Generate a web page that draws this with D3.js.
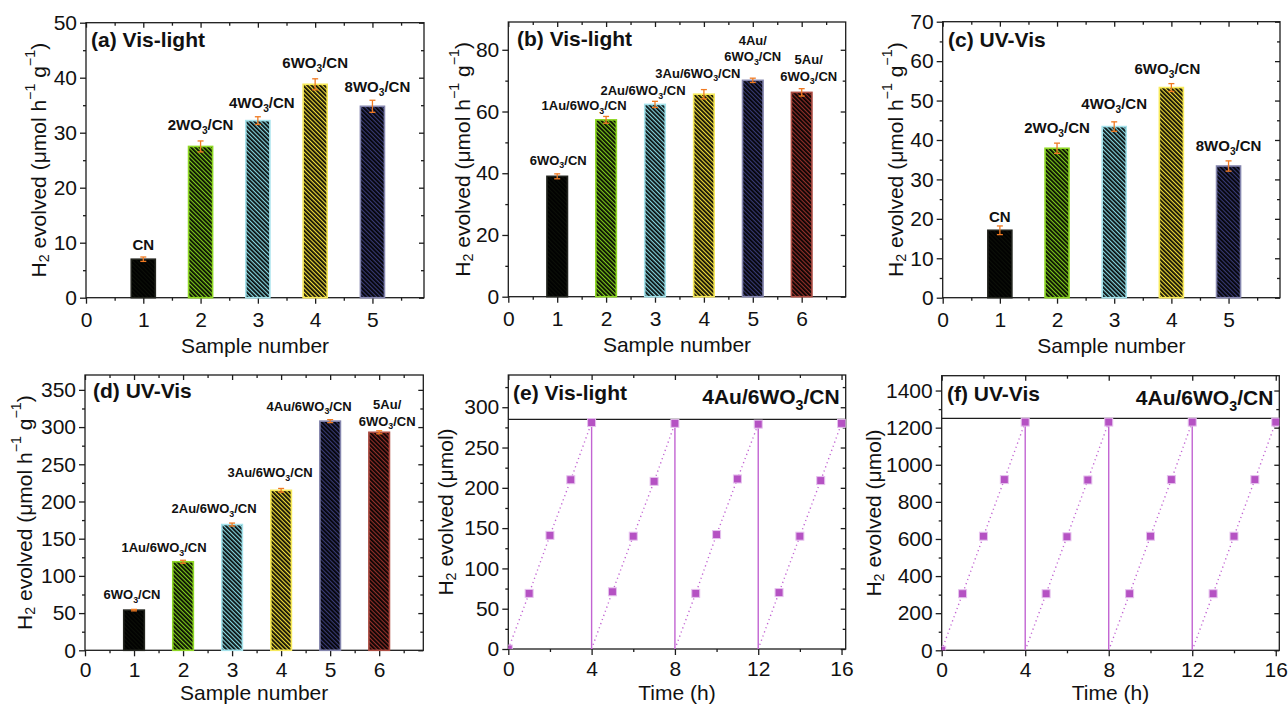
<!DOCTYPE html>
<html>
<head>
<meta charset="utf-8">
<script src="https://cdn.jsdelivr.net/npm/d3@7"></script>
<style>
  html, body { margin: 0; padding: 0; background: #fff; }
</style>
</head>
<body>
<div id="chart"></div>
<script>
'use strict';

// ---- data ----
var aSamples = [1, 2, 3, 4, 5];
var aNames = ['CN', '2WO_{3}/CN', '4WO_{3}/CN', '6WO_{3}/CN', '8WO_{3}/CN'];
var aRates = [7.0, 27.5, 32.2, 38.8, 34.8];
var aErrors = [0.4, 1.0, 0.7, 1.0, 1.1];

var bSamples = [1, 2, 3, 4, 5, 6];
var bNames = ['6WO_{3}/CN', '1Au/6WO_{3}/CN', '2Au/6WO_{3}/CN', '3Au/6WO_{3}/CN', '4Au/\n6WO_{3}/CN', '5Au/\n6WO_{3}/CN'];
var bRates = [39.0, 57.3, 62.3, 65.6, 70.1, 66.2];
var bErrors = [0.8, 1.1, 1.0, 1.5, 0.7, 1.2];

var cSamples = [1, 2, 3, 4, 5];
var cNames = ['CN', '2WO_{3}/CN', '4WO_{3}/CN', '6WO_{3}/CN', '8WO_{3}/CN'];
var cRates = [17.1, 37.9, 43.4, 53.3, 33.4];
var cErrors = [1.1, 1.3, 1.2, 1.0, 1.3];

var dSamples = [1, 2, 3, 4, 5, 6];
var dNames = ['6WO_{3}/CN', '1Au/6WO_{3}/CN', '2Au/6WO_{3}/CN', '3Au/6WO_{3}/CN', '4Au/6WO_{3}/CN', '5Au/\n6WO_{3}/CN'];
var dRates = [54, 119, 169, 215, 308, 293];
var dErrors = [1.0, 2.0, 2.0, 2.5, 2.0, 2.0];

// cycling runs: 4 cycles of 4 h, sampled every hour, reset to 0 at each cycle start
var cycleHours = [0, 1, 2, 3, 4];
var eCycles = [
  [0, 69, 141, 210, 281],
  [0, 71, 140, 208, 280],
  [0, 69, 142, 211, 279],
  [0, 70, 140, 209, 280]
];
var fCycles = [
  [0, 305, 615, 920, 1230],
  [0, 305, 612, 918, 1230],
  [0, 305, 615, 920, 1230],
  [0, 305, 615, 920, 1230]
];

// ---- styles ----
var FONT = '"Liberation Sans", Arial, Helvetica, sans-serif';
var axisColor = '#1c1c1c';
var barColors = ['#0c0f08', '#7fcb1c', '#86d6e0', '#f2de3a', '#383a74', '#92302a'];
var barEdges = ['#22241e', '#8fd825', '#a6e3ec', '#f7ea5c', '#8485ad', '#ad4d43'];
var errColor = '#f07a22';
var lineColor = '#c264d2';
var markFill = '#b552c3';
var markEdge = '#e6c2ee';
var barWidth = 0.42;

var W = 1288, H = 705;
var svg = d3.select('#chart').append('svg')
  .attr('width', W).attr('height', H)
  .style('font-family', FONT);
svg.append('rect').attr('width', W).attr('height', H).attr('fill', '#fff');
var defs = svg.append('defs');

barColors.forEach(function (c, i) {
  var s = 3.0;
  var pat = defs.append('pattern')
    .attr('id', 'hatch' + i)
    .attr('patternUnits', 'userSpaceOnUse')
    .attr('width', s).attr('height', s)
    .attr('patternTransform', 'rotate(-45)');
  pat.append('rect').attr('width', s).attr('height', s).attr('fill', c);
  pat.append('line')
    .attr('x1', 0.9).attr('y1', -1).attr('x2', 0.9).attr('y2', s + 1)
    .attr('stroke', '#000').attr('stroke-width', 1.7);
});

// text with _{sub} and ^{sup} parts
function rich(text, str, fs) {
  var parts = str.split(/([_^]\{[^}]*\})/).filter(function (s) { return s.length; });
  var shift = 0;
  parts.forEach(function (p) {
    var target = 0, s = p, small = false;
    if (p[0] === '_') { target = 0.28 * fs; s = p.slice(2, -1); small = true; }
    else if (p[0] === '^') { target = -0.38 * fs; s = p.slice(2, -1); small = true; }
    var t = text.append('tspan').attr('dy', target - shift).text(s);
    if (small) t.attr('font-size', fs * 0.68);
    shift = target;
  });
}

function styleAxis(g) {
  g.attr('font-size', 21).attr('font-family', FONT);
  g.select('.domain').remove();
  g.selectAll('.tick line').attr('stroke', axisColor).attr('stroke-width', 1.3);
  g.selectAll('.tick text').attr('fill', '#111');
}

function frame(p) {
  var x = d3.scaleLinear().domain([0, p.xMax]).range([p.left, p.right]);
  var y = d3.scaleLinear().domain([0, p.yMax]).range([p.bottom, p.top]);
  var g = svg.append('g');

  var xMaj = d3.range(0, p.xMax + 1e-6, p.xStep);
  var xMin = d3.range(p.xStep / 2, p.xMax, p.xStep);
  var yMaj = d3.range(0, p.yMax + 1e-6, p.yStep);
  var yMin = d3.range(p.yStep / 2, p.yMax, p.yStep);

  g.append('g').attr('transform', 'translate(0,' + p.bottom + ')')
    .call(d3.axisBottom(x).tickValues(xMaj).tickSize(6).tickPadding(p.xPad || 8).tickFormat(d3.format('d')))
    .call(styleAxis);
  g.append('g').attr('transform', 'translate(0,' + p.bottom + ')')
    .call(d3.axisBottom(x).tickValues(xMin).tickSize(3).tickFormat(''))
    .call(styleAxis);
  g.append('g').attr('transform', 'translate(0,' + p.top + ')')
    .call(d3.axisTop(x).tickValues(xMaj).tickSize(-5).tickFormat(''))
    .call(styleAxis);
  g.append('g').attr('transform', 'translate(0,' + p.top + ')')
    .call(d3.axisTop(x).tickValues(xMin).tickSize(-3).tickFormat(''))
    .call(styleAxis);

  g.append('g').attr('transform', 'translate(' + p.left + ',0)')
    .call(d3.axisLeft(y).tickValues(yMaj).tickSize(6).tickPadding(3).tickFormat(d3.format('d')))
    .call(styleAxis);
  g.append('g').attr('transform', 'translate(' + p.left + ',0)')
    .call(d3.axisLeft(y).tickValues(yMin).tickSize(3).tickFormat(''))
    .call(styleAxis);
  g.append('g').attr('transform', 'translate(' + p.right + ',0)')
    .call(d3.axisRight(y).tickValues(yMaj).tickSize(-5).tickFormat(''))
    .call(styleAxis);
  g.append('g').attr('transform', 'translate(' + p.right + ',0)')
    .call(d3.axisRight(y).tickValues(yMin).tickSize(-3).tickFormat(''))
    .call(styleAxis);

  g.append('rect')
    .attr('x', p.left).attr('y', p.top)
    .attr('width', p.right - p.left).attr('height', p.bottom - p.top)
    .attr('fill', 'none').attr('stroke', axisColor).attr('stroke-width', 1.3);

  // axis titles
  var xt = g.append('text')
    .attr('x', (p.left + p.right) / 2).attr('y', p.bottom + p.xTitleOff)
    .attr('text-anchor', 'middle').attr('font-size', 21).attr('fill', '#111');
  rich(xt, p.xTitle, 21);
  var cy = (p.top + p.bottom) / 2;
  var yt = g.append('text')
    .attr('transform', 'translate(' + p.yTitleX + ',' + cy + ') rotate(-90)')
    .attr('text-anchor', 'middle').attr('dominant-baseline', 'central')
    .attr('font-size', 21).attr('fill', '#111');
  rich(yt, p.yTitle, 21);

  // panel title
  var tt = g.append('text')
    .attr('x', p.titleX).attr('y', p.titleY)
    .attr('font-size', 21).attr('font-weight', 'bold').attr('fill', '#111');
  rich(tt, p.title, 21);

  return { x: x, y: y, g: g };
}

function barPanel(p, samples, names, rates, errors, shifts) {
  var f = frame(p);
  var x = f.x, y = f.y, g = f.g;
  var bw = x(barWidth) - x(0);

  g.selectAll('rect.bar').data(samples).enter().append('rect')
    .attr('class', 'bar')
    .attr('x', function (d) { return x(d) - bw / 2; })
    .attr('y', function (d, i) { return y(rates[i]); })
    .attr('width', bw)
    .attr('height', function (d, i) { return y(0) - y(rates[i]); })
    .attr('fill', function (d, i) { return 'url(#hatch' + i + ')'; })
    .attr('stroke', function (d, i) { return barEdges[i]; })
    .attr('stroke-width', 1.6);

  var eg = g.selectAll('g.err').data(samples).enter().append('g').attr('class', 'err')
    .attr('stroke', errColor).attr('stroke-width', 1.3);
  eg.append('line')
    .attr('x1', function (d) { return x(d); }).attr('x2', function (d) { return x(d); })
    .attr('y1', function (d, i) { return y(rates[i] - errors[i]); })
    .attr('y2', function (d, i) { return y(rates[i] + errors[i]); });
  [-1, 1].forEach(function (sgn) {
    eg.append('line')
      .attr('x1', function (d) { return x(d) - 3; }).attr('x2', function (d) { return x(d) + 3; })
      .attr('y1', function (d, i) { return y(rates[i] + sgn * errors[i]); })
      .attr('y2', function (d, i) { return y(rates[i] + sgn * errors[i]); });
  });

  samples.forEach(function (s, i) {
    var lines = names[i].split('\n');
    var base = y(rates[i] + errors[i]) - 9 + shifts[i][1];
    lines.forEach(function (ln, k) {
      var t = g.append('text')
        .attr('x', x(s) + shifts[i][0])
        .attr('y', base - (lines.length - 1 - k) * 16.5)
        .attr('text-anchor', 'middle')
        .attr('font-size', p.labelSize).attr('font-weight', 'bold').attr('fill', '#111');
      rich(t, ln, p.labelSize);
    });
  });
}

function cyclePanel(p, cycles, label) {
  var f = frame(p);
  var x = f.x, y = f.y, g = f.g;
  var cid = 'clip' + p.id;
  defs.append('clipPath').attr('id', cid).append('rect')
    .attr('x', p.left).attr('y', p.top)
    .attr('width', p.right - p.left).attr('height', p.bottom - p.top);
  var pg = g.append('g').attr('clip-path', 'url(#' + cid + ')');

  // separator of the label strip
  pg.append('line')
    .attr('x1', p.left).attr('x2', p.right)
    .attr('y1', y(p.bandAt)).attr('y2', y(p.bandAt))
    .attr('stroke', axisColor).attr('stroke-width', 1.3);

  var line = d3.line()
    .x(function (d) { return x(d[0]); })
    .y(function (d) { return y(d[1]); });
  var span = cycleHours[cycleHours.length - 1];

  cycles.forEach(function (vals, k) {
    var pts = cycleHours.map(function (h, j) { return [k * span + h, vals[j]]; });
    pg.append('path').attr('d', line(pts))
      .attr('fill', 'none').attr('stroke', lineColor).attr('stroke-width', 1.4)
      .attr('stroke-dasharray', '1.2,3.2');
    if (k < cycles.length - 1) {
      var last = pts[pts.length - 1];
      pg.append('line')
        .attr('x1', x(last[0])).attr('x2', x(last[0]))
        .attr('y1', y(last[1])).attr('y2', y(0))
        .attr('stroke', lineColor).attr('stroke-width', 1.4);
    }
    var marks = k === 0 ? pts : pts.slice(1);
    pg.selectAll(null).data(marks).enter().append('rect')
      .attr('x', function (d) { return x(d[0]) - 4; })
      .attr('y', function (d) { return y(d[1]) - 4; })
      .attr('width', 8).attr('height', 8)
      .attr('fill', markFill).attr('stroke', markEdge).attr('stroke-width', 1);
  });

  var rt = g.append('text')
    .attr('x', p.right - 6).attr('y', p.titleY + 4)
    .attr('text-anchor', 'end')
    .attr('font-size', 21).attr('font-weight', 'bold').attr('fill', '#111');
  rich(rt, label, 21);
}

var rateTitle = 'H_{2} evolved (\u03bcmol h^{\u22121} g^{\u22121})';
var amountTitle = 'H_{2} evolved (\u03bcmol)';

barPanel({
  left: 86, right: 424, top: 22.7, bottom: 297.7,
  xMax: 5.9, xStep: 1, yMax: 50, yStep: 10,
  xTitle: 'Sample number', xTitleOff: 55, yTitle: rateTitle, yTitleX: 38,
  title: '(a) Vis-light', titleX: 91, titleY: 47, labelSize: 15
}, aSamples, aNames, aRates, aErrors, [[0, 2], [0, -2], [4, 0], [0, -2], [5, 1]]);

barPanel({
  left: 508.3, right: 845.7, top: 22, bottom: 296.7,
  xMax: 6.9, xStep: 1, yMax: 89, yStep: 20,
  xTitle: 'Sample number', xTitleOff: 55, yTitle: rateTitle, yTitleX: 462,
  title: '(b) Vis-light', titleX: 517, titleY: 46, labelSize: 13
}, bSamples, bNames, bRates, bErrors, [[1, 0], [-22, 3], [-12, 3], [-6, -3], [0, -8], [7, 1]]);

barPanel({
  left: 942.7, right: 1280, top: 21.7, bottom: 297.7,
  xMax: 5.9, xStep: 1, yMax: 70, yStep: 10,
  xTitle: 'Sample number', xTitleOff: 55, yTitle: rateTitle, yTitleX: 895,
  title: '(c) UV-Vis', titleX: 948, titleY: 47, labelSize: 15
}, cSamples, cNames, cRates, cErrors, [[0, 5], [0, -1], [0, -4], [-4, -1], [0, -1]]);

barPanel({
  left: 85, right: 423.3, top: 375, bottom: 650.3,
  xMax: 6.9, xStep: 1, yMax: 370, yStep: 50,
  xTitle: 'Sample number', xTitleOff: 50, yTitle: rateTitle, yTitleX: 24, xPad: 6,
  title: '(d) UV-Vis', titleX: 93, titleY: 398, labelSize: 13
}, dSamples, dNames, dRates, dErrors, [[-2, -1], [-19, 1], [-18, -1], [-11, -2], [-21, 0], [8, 4]]);

cyclePanel({
  id: 'e', left: 508.3, right: 845.7, top: 375, bottom: 649,
  xMax: 16.2, xStep: 4, yMax: 340, yStep: 50, bandAt: 285,
  xTitle: 'Time (h)', xTitleOff: 51, yTitle: amountTitle, yTitleX: 445, xPad: 6,
  title: '(e) Vis-light', titleX: 513, titleY: 400
}, eCycles, '4Au/6WO_{3}/CN');

cyclePanel({
  id: 'f', left: 941.7, right: 1279.3, top: 375.7, bottom: 650.3,
  xMax: 16.17, xStep: 4, yMax: 1480, yStep: 200, bandAt: 1250,
  xTitle: 'Time (h)', xTitleOff: 50, yTitle: amountTitle, yTitleX: 873, xPad: 6,
  title: '(f) UV-Vis', titleX: 947, titleY: 401
}, fCycles, '4Au/6WO_{3}/CN');
</script>
</body>
</html>
